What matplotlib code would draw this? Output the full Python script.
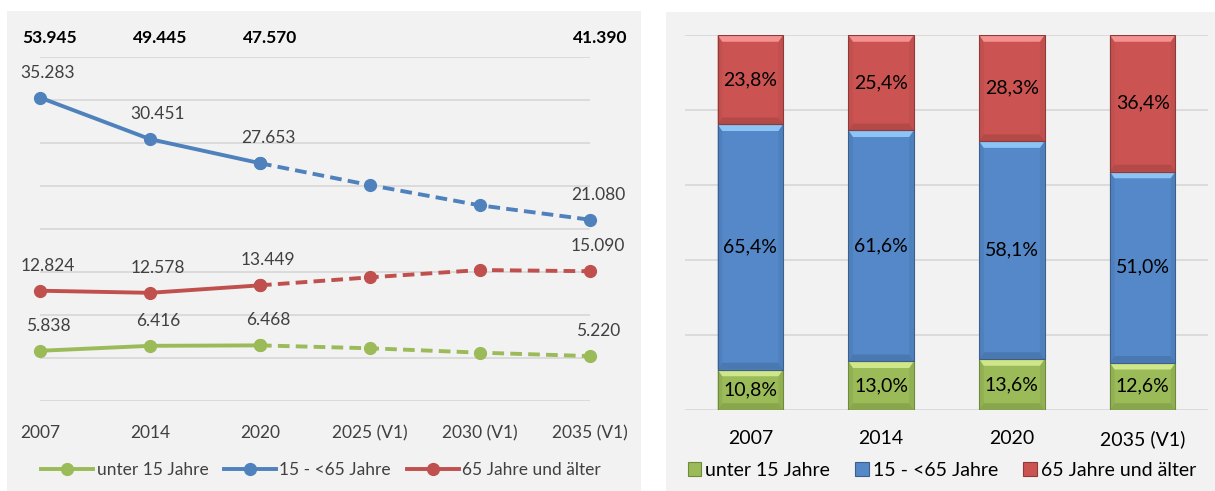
import matplotlib
matplotlib.use("Agg")
import matplotlib.pyplot as plt
from matplotlib.patches import Rectangle, Polygon, Patch
from matplotlib.lines import Line2D
from matplotlib.transforms import offset_copy
import numpy as np

plt.rcParams['font.family'] = ['Lato', 'DejaVu Sans']

# ---------------- data ----------------
line_years = ["2007", "2014", "2020", "2025 (V1)", "2030 (V1)", "2035 (V1)"]
under15 = [5838, 6416, 6468, 6130, 5620, 5220]
age15_65 = [35283, 30451, 27653, 25100, 22750, 21080]
over65 = [12824, 12578, 13449, 14380, 15230, 15090]
labelled_idx = [0, 1, 2, 5]
totals = [53945, 49445, 47570, 41390]
series_names = ["unter 15 Jahre", "15 - <65 Jahre", "65 Jahre und älter"]

bar_years = ["2007", "2014", "2020", "2035 (V1)"]
pct_under15 = [10.8, 13.0, 13.6, 12.6]
pct_15_65 = [65.4, 61.6, 58.1, 51.0]
pct_over65 = [23.8, 25.4, 28.3, 36.4]

GREEN = "#9BBB59"
BLUE = "#4F81BD"
RED = "#C0504D"

W, H = 1215, 491
fig = plt.figure(figsize=(W / 100, H / 100), dpi=100)

def px_rect(x0, y0, x1, y1):
    return [x0 / W, 1 - y1 / H, (x1 - x0) / W, (y1 - y0) / H]

# panel backgrounds
for (x0, y0, x1, y1) in [(7, 11, 641, 491), (666, 12, 1215, 491)]:
    fig.patches.append(Rectangle((x0 / W, 1 - y1 / H), (x1 - x0) / W, (y1 - y0) / H,
                                 transform=fig.transFigure, facecolor="#F2F2F2",
                                 edgecolor="none", zorder=-10))

def fmt_de(v):
    return f"{v:,}".replace(",", ".")

# ---------------- left: line chart ----------------
ax = fig.add_axes(px_rect(40, 57, 590, 401))
ax.set_facecolor("none")
x = np.arange(len(line_years))
ax.set_xlim(0, len(line_years) - 1)
ax.set_ylim(0, 40000)
ax.set_yticks(np.arange(0, 40001, 5000))
ax.yaxis.grid(True, color="#D9D9D9", linewidth=1.3)
ax.set_axisbelow(True)
ax.tick_params(axis="y", left=False, labelleft=False)
ax.tick_params(axis="x", bottom=False, pad=14)
ax.set_xticks(x)
ax.set_xticklabels(line_years, fontsize=12.5, color="#404040")
for s in ax.spines.values():
    s.set_visible(False)

split = 2
for vals, col in [(under15, GREEN), (age15_65, BLUE), (over65, RED)]:
    ax.plot(x[:split + 1], vals[:split + 1], color=col, lw=2.8, solid_capstyle="round",
            marker="o", ms=8.5, zorder=3, clip_on=False)
    ax.plot(x[split:], vals[split:], color=col, lw=2.8, ls=(0, (3.0, 1.6)),
            marker="o", ms=8.5, zorder=3, clip_on=False)
    lt = offset_copy(ax.transData, fig=fig, x=8, y=25, units="dots")
    for i in labelled_idx:
        ax.text(x[i], vals[i], fmt_de(vals[i]), transform=lt, ha="center", va="center",
                fontsize=12.5, color="#404040", clip_on=False)

tt = offset_copy(ax.transData, fig=fig, x=10, y=0, units="dots")
for i, tv in zip(labelled_idx, totals):
    ax.text(x[i], 42200, fmt_de(tv), transform=tt, ha="center", va="center",
            fontsize=12.5, fontweight="bold", color="black", clip_on=False)

handles = [Line2D([], [], color=c, lw=2.8, marker="o", ms=8.5) for c in (GREEN, BLUE, RED)]
fig.legend(handles, series_names, loc="center", bbox_to_anchor=(321 / W, 1 - 470 / H),
           ncol=3, frameon=False, fontsize=12.5, handlelength=3.0, handletextpad=0.2,
           columnspacing=0.9, labelcolor="#404040")

# ---------------- right: stacked bars ----------------
bx = fig.add_axes(px_rect(685, 35, 1208, 410))
bx.set_facecolor("none")
xb = np.arange(len(bar_years))
bx.set_xlim(-0.5, len(bar_years) - 0.5)
bx.set_ylim(0, 100)
bx.set_yticks(np.arange(0, 101, 20))
bx.yaxis.grid(True, color="#D9D9D9", linewidth=1.3)
bx.set_axisbelow(True)
bx.tick_params(axis="y", left=False, labelleft=False)
bx.tick_params(axis="x", bottom=False, pad=11)
bx.set_xticks(xb)
bx.set_xticklabels(bar_years, fontsize=14, color="black")
for s in bx.spines.values():
    s.set_visible(False)

bw = 0.5
styles = {
    "g": dict(main="#9BBB59", light="#CFE68A", dark="#88A64C", side="#91B053", edge="#6E8A3A"),
    "b": dict(main="#5588C8", light="#8CC4F6", dark="#4A79B2", side="#4E80BD", edge="#3D5F8A"),
    "r": dict(main="#CB5452", light="#F39290", dark="#B44A48", side="#C1504E", edge="#8E3A38"),
}
dy = 1.8   # bevel band height (in %)
dxb = 0.035  # bevel side width (in category units)

def bevel_bar(c, bottom, height, st):
    l, r = c - bw / 2, c + bw / 2
    b, t = bottom, bottom + height
    bx.add_patch(Rectangle((l, b), bw, height, facecolor=st["main"], edgecolor="none", zorder=2))
    bx.add_patch(Polygon([(l, b), (l + dxb, b + dy), (l + dxb, t - dy), (l, t)],
                         facecolor=st["side"], edgecolor="none", zorder=2))
    bx.add_patch(Polygon([(r, b), (r - dxb, b + dy), (r - dxb, t - dy), (r, t)],
                         facecolor=st["side"], edgecolor="none", zorder=2))
    bx.add_patch(Polygon([(l, b), (r, b), (r - dxb, b + dy), (l + dxb, b + dy)],
                         facecolor=st["dark"], edgecolor="none", zorder=2))
    bx.add_patch(Polygon([(l, t), (r, t), (r - dxb, t - dy), (l + dxb, t - dy)],
                         facecolor=st["light"], edgecolor="none", zorder=2))
    bx.add_patch(Rectangle((l, b), bw, height, facecolor="none", edgecolor=st["edge"],
                           lw=0.8, zorder=2.5))

bottoms = np.zeros(len(bar_years))
for vals, key in [(pct_under15, "g"), (pct_15_65, "b"), (pct_over65, "r")]:
    for i, v in enumerate(vals):
        bevel_bar(xb[i], bottoms[i], v, styles[key])
        bx.text(xb[i], bottoms[i] + v / 2, f"{v:.1f}%".replace(".", ","), ha="center",
                va="center", fontsize=14, color="black", zorder=4)
    bottoms += np.array(vals)

bhandles = [Patch(facecolor=styles[k]["main"], edgecolor=styles[k]["edge"], lw=0.8)
            for k in ("g", "b", "r")]
fig.legend(bhandles, series_names, loc="center", bbox_to_anchor=(942 / W, 1 - 470 / H),
           ncol=3, frameon=False, fontsize=14, handlelength=0.7, handleheight=0.7,
           handletextpad=0.2, columnspacing=1.3, labelcolor="black")

fig.savefig("out.png", dpi=100)
